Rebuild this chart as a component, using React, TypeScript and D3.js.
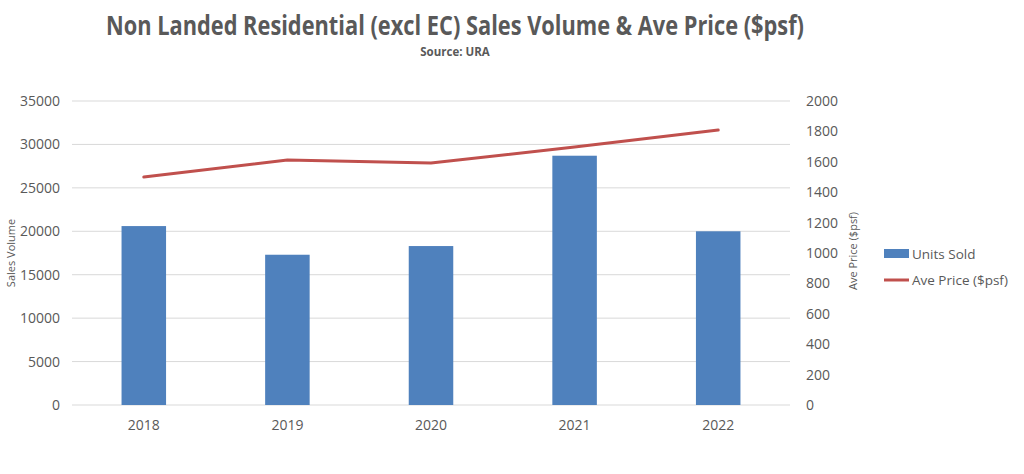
import React from "react";
import * as d3 from "d3";

const years = ["2018", "2019", "2020", "2021", "2022"];
const unitsSold = [20600, 17300, 18300, 28700, 20000];
const avePrice = [1500, 1612, 1592, 1697, 1809];
const leftTicks = [0, 5000, 10000, 15000, 20000, 25000, 30000, 35000];
const rightTicks = [0, 200, 400, 600, 800, 1000, 1200, 1400, 1600, 1800, 2000];

const W = 1024;
const H = 474;
const FONT = "'Open Sans', 'Liberation Sans', sans-serif";
const TXT = "#595959";

export default function App() {
  const left = 72, right = 790, top = 101, bottom = 405;
  const x = d3.scaleBand().domain(years).range([left, right]).paddingInner(0).paddingOuter(0);
  const yL = d3.scaleLinear().domain([0, 35000]).range([bottom, top]);
  const yR = d3.scaleLinear().domain([0, 2000]).range([bottom, top]);
  const barW = x.bandwidth() * 0.31;
  const line = d3.line<number>()
    .x((_, i) => (x(years[i]) as number) + x.bandwidth() / 2)
    .y((d) => yR(d));

  return (
    <svg width={W} height={H} style={{ position: "absolute", left: 0, top: 0, background: "#fff" }}>
      <rect x={0} y={0} width={W} height={H} fill="#fff" />
      <text x={455} y={35} textAnchor="middle" fontFamily={FONT} fontWeight="bold" fontSize={26.5} fill={TXT} textLength={698} lengthAdjust="spacingAndGlyphs">
        Non Landed Residential (excl EC) Sales Volume &amp; Ave Price ($psf)
      </text>
      <text x={455} y={56} textAnchor="middle" fontFamily={FONT} fontWeight="bold" fontSize={11.5} fill={TXT}>
        Source: URA
      </text>
      {leftTicks.map((t) => (
        <g key={t}>
          <line x1={left} x2={right} y1={yL(t)} y2={yL(t)} stroke="#d9d9d9" strokeWidth={1} />
          <text x={60} y={yL(t) + 5} textAnchor="end" fontFamily={FONT} fontSize={14} fill={TXT}>{t}</text>
        </g>
      ))}
      {rightTicks.map((t) => (
        <text key={t} x={806} y={yR(t) + 5} textAnchor="start" fontFamily={FONT} fontSize={14} fill={TXT}>{t}</text>
      ))}
      {years.map((yr, i) => (
        <g key={yr}>
          <rect
            x={(x(yr) as number) + (x.bandwidth() - barW) / 2}
            y={yL(unitsSold[i])}
            width={barW}
            height={bottom - yL(unitsSold[i])}
            fill="#4F81BD"
          />
          <text x={(x(yr) as number) + x.bandwidth() / 2} y={430} textAnchor="middle" fontFamily={FONT} fontSize={14} fill={TXT}>{yr}</text>
        </g>
      ))}
      <path d={line(avePrice) || ""} fill="none" stroke="#C0504D" strokeWidth={3} strokeLinecap="round" strokeLinejoin="round" />
      <text transform={`translate(15,${253}) rotate(-90)`} textAnchor="middle" fontFamily={FONT} fontSize={11} fill={TXT}>Sales Volume</text>
      <text transform={`translate(857,${251}) rotate(-90)`} textAnchor="middle" fontFamily={FONT} fontSize={11} fill={TXT}>Ave Price ($psf)</text>
      <rect x={884} y={249} width={25} height={9} fill="#4F81BD" />
      <text x={912} y={259} fontFamily={FONT} fontSize={13.5} fill={TXT}>Units Sold</text>
      <line x1={884} x2={909} y1={280} y2={280} stroke="#C0504D" strokeWidth={3} />
      <text x={912} y={285} fontFamily={FONT} fontSize={13.5} fill={TXT}>Ave Price ($psf)</text>
    </svg>
  );
}
